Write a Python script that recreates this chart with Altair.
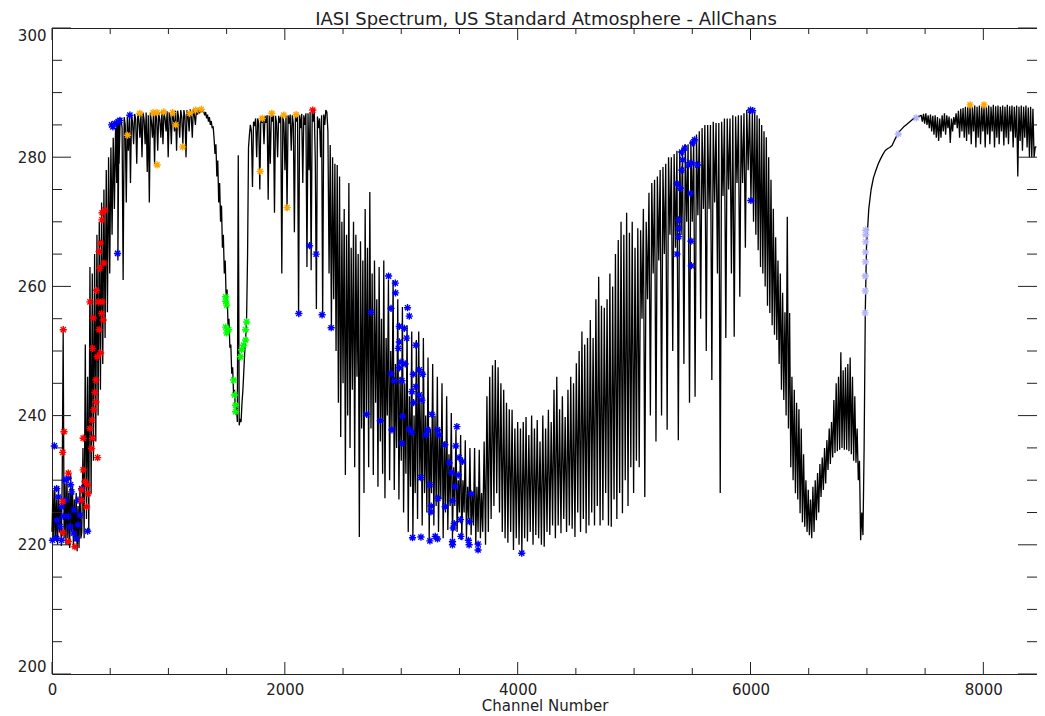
import altair as alt
import pandas as pd

# ---------------- spectrum (brightness temperature, K) ----------------
# each segment: first channel, channel step
SEG1_START, SEG1_STEP = 0, 8
SEG1 = [222, 228.5, 220.5, 229, 221, 227, 220, 229, 222, 226, 219.8, 231, 253, 221, 229.5, 220,
        230.5, 221, 228, 219.5, 231, 222, 229, 219.5, 227, 220.5, 228, 219, 226, 219.5, 229, 221]

SEG2_START, SEG2_STEP = 256, 10
SEG2 = [222, 235, 221, 251, 224, 246, 222, 263, 228, 262, 233, 265, 236, 268, 240, 270, 244, 273,
        248, 275, 252, 278, 256, 280, 262, 281.5, 268, 283, 272, 284.5, 276, 285.5, 279, 286]

SEG3_START, SEG3_STEP = 557, 9
SEG3 = [285.5, 264, 285.8, 285, 286, 284.5, 261, 286.2, 285, 273, 286.3, 281, 286.5, 276, 286.5,
        285.5, 282, 286.7, 285.8, 279, 286.8, 285.8, 283, 286.8, 280, 286.9, 285.8, 282, 286.9,
        277.7, 286.5, 273, 286.8, 285.5, 283, 287, 279, 287, 286, 281, 287, 285.8, 283, 287.1, 282,
        287, 286, 284, 287.1, 280, 287, 286, 282, 287.2, 286, 284, 287.2, 281, 287.2, 286, 283,
        287.3, 286.2, 282, 287.3, 286.3, 280, 287.3, 286.3, 284, 287.4, 286.5, 283, 287.4, 286.5,
        285, 287.5, 286.6, 287.5, 286.8, 287.4, 287, 287.2]

SEG4_START, SEG4_STEP = 1304, 8
SEG4 = [287, 286.5, 287, 286, 286.6, 285.5, 286.2, 285, 285.6, 284.5, 284.8, 283, 280.5, 282,
        277, 279.5, 273, 276, 270, 272.5, 266, 268, 262, 264, 258, 259.5, 254, 255, 250.5, 251,
        246.5, 247.5, 243, 244, 240.5, 241.5, 239, 280.3, 238.5, 239.5, 239, 242, 244, 247, 250,
        252, 255.5, 265, 281.5, 283.5]

SEG5_START, SEG5_STEP = 1704, 9
SEG5 = [285, 284, 275.4, 285.5, 284.8, 286, 280, 286, 285.2, 275, 286.2, 285.3, 286.2, 282, 286.4,
        285.3, 286.5, 273.4, 286.5, 279, 286.7, 285.5, 286.5, 271.4, 286.4, 285.3, 280, 286.4,
        285.3, 286.3, 262, 286.3, 285.3, 278, 286.5, 271.8, 286.5, 285.2, 286.6, 281, 286.5, 285.2,
        268.4, 286.6, 285.5, 286.8, 255.5, 286.5, 284.5, 286.7, 276, 286.5, 285, 286.8, 263, 286.8,
        278, 287, 262.5, 287.2, 285.5, 287.3, 279, 256.5, 286.3, 284.5, 286, 280, 286.5, 255.3,
        286.6, 285, 287.3, 287]

SEG6_START, SEG6_STEP = 2370, 10
SEG6 = [284, 262, 281.9, 253.6, 280, 258, 279, 250, 278.8, 242,
        277, 236.7, 270, 245, 272, 230.8, 268, 240, 276, 235,
        266, 244, 270, 232, 268, 246, 265, 221.2, 267, 238,
        264, 228, 272, 240, 266, 232, 274.6, 238, 262, 230.8,
        264, 242, 258, 229, 263, 236, 255, 231, 264, 227.2,
        252, 240, 261, 230, 250, 238, 261, 228.5, 248, 235,
        258, 227, 246, 233, 256.8, 225, 245, 231, 254, 222,
        243, 229, 253, 221.2, 240, 228, 251.7, 224, 253, 230,
        242, 223, 252, 228, 240, 225, 249, 220.7, 238, 228,
        248, 223, 240, 226, 246, 222, 238, 227, 245, 221,
        236, 225, 243, 222.3, 234, 226, 240.4, 221, 232, 226,
        237.8, 222, 230, 225, 237, 220.7, 230, 225, 236.2, 221,
        229, 224, 235, 221.5, 228, 223, 235, 220, 229, 222,
        234.7, 221, 228, 222]

SEG7_START, SEG7_STEP = 3712, 12
SEG7 = [236, 220, 243, 222, 246, 224, 247.8, 226, 248.6, 228,
        247.5, 225, 245, 222, 244, 221, 242, 220.3, 241, 222,
        240.9, 219.2, 238, 221, 239, 220, 238, 218.7, 239, 221,
        239.8, 220.5, 237, 222, 240, 220, 238, 221.5, 239.3, 221,
        236, 220, 240, 219.7, 238, 222, 240.9, 221.5, 239, 223,
        244, 221, 246, 223, 241, 221.8, 243, 224, 239.8, 222,
        244, 223, 246, 222.5, 245, 221.2, 248.1, 225, 250, 222,
        253, 224, 251, 221.8, 252, 223, 254.8, 225, 252, 223,
        258, 226, 261.5, 223, 257, 223.8, 256.7, 228, 258, 223,
        262, 222.8, 260, 227, 265, 224, 267.2, 228, 270, 224.9,
        268, 230, 271.4, 226, 268.3, 232, 270, 228, 266, 233,
        269, 232, 268.7, 255, 272, 227.4, 270, 258, 274.5, 240,
        276, 262, 276.5, 236, 277, 264, 278, 240, 278.5, 265,
        279, 237.8, 280, 268, 280, 250, 280.5, 266, 281, 236.2,
        281, 268, 281.5, 248, 282, 270, 282, 242, 282.5, 270,
        283, 242.9, 283.5, 271, 284, 255, 284.5, 272, 285, 250,
        285, 272, 285, 245.5, 285.5, 273, 285.3, 262, 285.3, 228,
        285.5, 274, 286, 252, 286, 275, 286, 262, 286.5, 252.2,
        286.3, 276, 286.5, 258.4, 286.5, 276, 286.8, 266, 287.3, 278,
        287.5, 273.3]

SEG8_START, SEG8_STEP = 6016, 10
SEG8 = [287.3, 270, 287, 268, 286.5, 265.6, 286, 263, 285, 262,
        284, 260, 283.1, 257, 280, 255.9, 276.5, 254, 272, 252.5,
        267.6, 251.7, 264, 248, 262, 244, 259, 242.4, 256, 240,
        270.8, 238, 255.9, 232, 246, 230, 244, 228, 242, 227,
        241, 224.9, 238, 223.5, 234, 222.8, 230, 222, 228.5, 221.5,
        227, 221, 229, 222, 230, 223.8, 231.1, 225, 232.5, 227.4,
        233.5, 228.5, 235, 229.5, 236.2, 231.6, 238, 232.5, 239, 233.5,
        242.4, 234.2, 245, 234.5, 246, 234.7, 249.8, 235, 247, 234.7,
        247.5, 234.7, 248, 234.5, 249, 234, 246, 233, 243, 232.7,
        238, 230, 233, 220.7, 225, 221.5, 235, 255.9]

SEG9_START, SEG9_STEP = 6996, 20
SEG9 = [266, 272, 275, 276.8, 277.9, 278.9, 279.7, 280.4, 281, 281.3, 281.5, 281.8,
        282.6, 283.3, 283.9, 284.3, 284.7, 285, 285.3, 285.6, 285.9, 286.1, 286.3, 286.4]

SEG10_START, SEG10_STEP = 7466, 10
SEG10 = [286.5, 285.5, 286.7, 285.2, 286.8, 285, 286.5, 284.5, 286.6, 284,
         286.4, 283.5, 286.5, 283, 286.2, 282.5, 286, 283, 286.5, 284,
         286.8, 283.5, 286.5, 284.5, 286.3, 282.2, 286, 284, 286.2, 285,
         286.8, 284.5, 287.2, 283, 287.5, 284, 287.6, 283, 287.8, 282.5,
         287.8, 283.5, 288, 282, 287.8, 284, 288, 281.5, 287.8, 283,
         288, 282, 287.9, 284, 288, 281.5, 287.8, 283.5, 288, 282,
         287.8, 284, 288.1, 281.5, 287.9, 283, 288, 282, 287.8, 284,
         288, 281.8, 287.8, 283, 288.1, 282, 287.9, 284, 288, 281.5,
         287.8, 283, 288, 277, 287.8, 282.5, 288, 281, 287.8, 283,
         288, 281.5, 287.7, 280, 287.8, 280, 287.5, 280, 281.6, 281.6]

SEGMENTS = [(SEG1_START, SEG1_STEP, SEG1), (SEG2_START, SEG2_STEP, SEG2),
            (SEG3_START, SEG3_STEP, SEG3), (SEG4_START, SEG4_STEP, SEG4),
            (SEG5_START, SEG5_STEP, SEG5), (SEG6_START, SEG6_STEP, SEG6),
            (SEG7_START, SEG7_STEP, SEG7), (SEG8_START, SEG8_STEP, SEG8),
            (SEG9_START, SEG9_STEP, SEG9), (SEG10_START, SEG10_STEP, SEG10)]

# ---------------- selected channels (asterisks) ----------------
RED_CH = [97, 103, 92, 140, 92, 92, 140, 197, 268, 326, 349, 340, 392, 268, 283, 306, 311, 255,
          255, 297, 349, 383, 326, 397, 431, 354, 426, 440, 405, 411, 446, 405, 417, 429, 454,
          431, 388, 417, 377, 369, 377, 360, 343, 2240]
RED_BT = [253.3, 237.5, 234.3, 231.1, 226.7, 221.9, 220.5, 219.7, 236.5, 238, 236.5, 234.9,
          233.5, 231.6, 229.8, 229.3, 227.9, 226.9, 228.5, 225.9, 250.4, 259.4, 257.6, 257.6,
          257.6, 255.1, 255.8, 254.8, 253.3, 262.8, 263.6, 265.4, 266.7, 270.3, 271.8, 271.4,
          249.1, 249.7, 245.5, 243.6, 242.1, 240.9, 239.3, 287.3]

BLUE_CH = [20, 40, 54, 83, 69, 40, 111, 140, 160, 169, 97, 140, 154, 83, 183, 225, 212, 240, 255,
           306, 43, 120, 189, 223, 4,
           512, 523, 540, 568, 583, 669, 563,
           2120, 2212, 2269, 2320, 2398, 2740, 2703, 2820, 2891, 2949, 2951, 2912, 3054, 3069,
           2983, 3026, 3046, 2983, 2975, 3126, 2998, 3034, 2983, 2912, 2940, 3006, 3103, 3155,
           3183, 3126, 3092, 3155, 3178, 3106, 3011, 3263, 2920, 3069, 3092, 3226, 3212, 3311,
           3326, 3006, 3478, 3375, 3469, 3497, 3412, 3526, 3431, 3489, 3169, 3463, 3246, 3600,
           3315, 3440, 3257, 3377, 3255, 3509, 3586, 3455, 3446, 3097, 3169, 3246, 3292, 3311,
           3440, 3440, 3512, 3577, 3583, 3660, 3660, 4035,
           5369, 5398, 5484, 5383, 5383, 5383, 5369, 5489, 5492, 6003, 5409, 5417, 5435, 5503,
           5520, 5469, 5546, 5495, 5409, 6000, 6018]
BLUE_BT = [235.3, 228.7, 227.4, 225.9, 222.8, 221, 230, 230.3, 229.3, 228.2, 224.4, 224.4, 222.8,
           220.7, 221.8, 223.1, 221, 224.6, 228.7, 222.1, 223.8, 226.9, 225.4, 226.9, 220.7,
           285, 284.7, 285.2, 285.5, 285.7, 286.5, 265.1,
           255.8, 266.3, 265, 255.6, 253.6, 256, 240.2, 239.2, 261.6, 260.5, 259, 256.6, 256.7,
           255.4, 253.8, 253.5, 252, 251.4, 250.4, 250.9, 248.3, 248, 247.4, 246.5, 245.4, 245.4,
           246.4, 247.1, 246.4, 244.5, 243.7, 243.2, 242.4, 242, 239.9, 240.2, 237.8, 237.9, 237.4,
           237.8, 237, 237.8, 237, 235.7, 238.3, 235.5, 235.3, 233.5, 232.7, 232.9, 231.2, 230.8,
           230.4, 229, 229.3, 227.9, 227.2, 226.8, 226, 225.9, 225.1, 223.9, 223.6, 223.3, 222.6,
           221.1, 221.2, 220.6, 221.3, 220.9, 220.5, 220, 221.3, 220.7, 220, 220.1, 219.2, 218.7,
           275.9, 275.2, 274.4, 270.3, 269, 267.7, 265, 267, 263.2, 273.3, 280.8, 279.6, 281.4,
           282.2, 282.7, 278.8, 278.8, 279.1, 278, 287.3, 287.2]

ORANGE_CH = [649, 754, 868, 903, 903, 960, 1037, 1063, 1123, 1183, 1234, 1283, 1806, 1789, 1888,
             1991, 2097, 2020, 7886, 8006]
ORANGE_BT = [283.4, 286.8, 286.9, 286.9, 278.8, 287, 286.9, 285, 281.6, 286.8, 287.3, 287.4, 286,
             277.8, 286.8, 286.5, 286.6, 272.2, 288.1, 288.1]

GREEN_CH = [1492, 1492, 1500, 1492, 1500, 1517, 1560, 1569, 1577, 1577, 1620, 1629, 1646, 1663,
            1672, 1663]
GREEN_BT = [258.4, 257.7, 257.1, 253.7, 252.8, 253.3, 245.5, 243.2, 241.6, 240.6, 249.1, 250.2,
            250.9, 253.3, 254.5, 251.7]

LIGHT_CH = [6990, 6990, 6990, 6988, 6988, 6986, 6986, 6984, 7270, 7423]
LIGHT_BT = [268.7, 268, 266.9, 265.3, 263.8, 261.6, 259.3, 255.9, 283.6, 286.1]

X_MAJOR = [0, 2000, 4000, 6000, 8000]
X_MINOR = [500, 1000, 1500, 2500, 3000, 3500, 4500, 5000, 5500, 6500, 7000, 7500]
Y_MAJOR = [200, 220, 240, 260, 280, 300]
Y_MINOR = [205, 210, 215, 225, 230, 235, 245, 250, 255, 265, 270, 275, 285, 290, 295]

TITLE = "IASI Spectrum, US Standard Atmosphere - AllChans"
XTITLE = "Channel Number"

# ---------------- build tables ----------------
rows = []
for start, step, vals in SEGMENTS:
    for i, v in enumerate(vals):
        rows.append({"ch": start + step * i, "bt": v})
spec = pd.DataFrame(rows)

star_rows = []
for grp, chs, bts in [("blue", BLUE_CH, BLUE_BT), ("red", RED_CH, RED_BT),
                      ("orange", ORANGE_CH, ORANGE_BT), ("green", GREEN_CH, GREEN_BT),
                      ("light", LIGHT_CH, LIGHT_BT)]:
    for c, b in zip(chs, bts):
        star_rows.append({"ch": c, "bt": b, "grp": grp})
stars = pd.DataFrame(star_rows)

W, H = 985, 646
FONT = "DejaVu Sans"
INK = "#222222"

xscale = alt.Scale(domain=[0, 8461], nice=False, zero=False)
yscale = alt.Scale(domain=[200, 300], nice=False, zero=False)

line = alt.Chart(spec).mark_line(color="black", strokeWidth=1.3, strokeJoin="bevel").encode(
    x=alt.X("ch:Q", scale=xscale, title=XTITLE,
            axis=alt.Axis(values=X_MAJOR, ticks=False, domain=False, grid=False, labelFlush=False,
                          labelExpr="datum.value", labelPadding=8, titlePadding=1,
                          titleFontSize=15)),
    y=alt.Y("bt:Q", scale=yscale, title=None,
            axis=alt.Axis(values=Y_MAJOR, ticks=False, domain=False, grid=False, labelFlush=True,
                          labelPadding=6)),
)

ASTERISK = "M-1,0L1,0M0,-1L0,1M-0.72,-0.72L0.72,0.72M-0.72,0.72L0.72,-0.72"
pts = alt.Chart(stars).mark_point(shape=ASTERISK, size=52, strokeWidth=1.4, filled=False,
                                  opacity=1).encode(
    x=alt.X("ch:Q", scale=xscale),
    y=alt.Y("bt:Q", scale=yscale),
    color=alt.Color("grp:N", legend=None,
                    scale=alt.Scale(domain=["blue", "red", "orange", "green", "light"],
                                    range=["#0000ff", "#ff0000", "#ffa500", "#00ff00", "#b4b4ff"])),
)

title_mark = alt.Chart(pd.DataFrame({"t": [TITLE]})).mark_text(
    font=FONT, fontSize=18, color=INK, align="center", baseline="alphabetic"
).encode(text="t:N", x=alt.value(W / 2 + 1.5), y=alt.value(-3.5))


def xticks(vals, length):
    d = pd.DataFrame({"ch": vals})
    bottom = alt.Chart(d).mark_rule(color=INK, strokeWidth=1).encode(
        x=alt.X("ch:Q", scale=xscale), y=alt.value(H), y2=alt.value(H - length))
    top = alt.Chart(d).mark_rule(color=INK, strokeWidth=1).encode(
        x=alt.X("ch:Q", scale=xscale), y=alt.value(0), y2=alt.value(length))
    return [bottom, top]


def yticks(vals, length):
    d = pd.DataFrame({"bt": vals})
    left = alt.Chart(d).mark_rule(color=INK, strokeWidth=1).encode(
        y=alt.Y("bt:Q", scale=yscale), x=alt.value(0), x2=alt.value(length))
    right = alt.Chart(d).mark_rule(color=INK, strokeWidth=1).encode(
        y=alt.Y("bt:Q", scale=yscale), x=alt.value(W), x2=alt.value(W - length))
    return [left, right]


layers = ([line, pts] + xticks(X_MAJOR, 12) + xticks(X_MINOR, 6) + yticks(Y_MAJOR, 19)
          + yticks(Y_MINOR, 10) + [title_mark])

chart = alt.layer(*layers).properties(
    width=W, height=H,
    autosize=alt.AutoSizeParams(type="none"),
    padding={"left": 44, "top": 20, "right": 0, "bottom": 42},
    background="white",
).configure_view(stroke=INK, strokeWidth=1).configure_axis(
    labelFont=FONT, labelFontSize=15, labelColor=INK, titleFont=FONT, titleFontSize=15,
    titleFontWeight="normal", titleColor=INK)

chart.save("out.html", embed_options={"renderer": "svg", "actions": False})
